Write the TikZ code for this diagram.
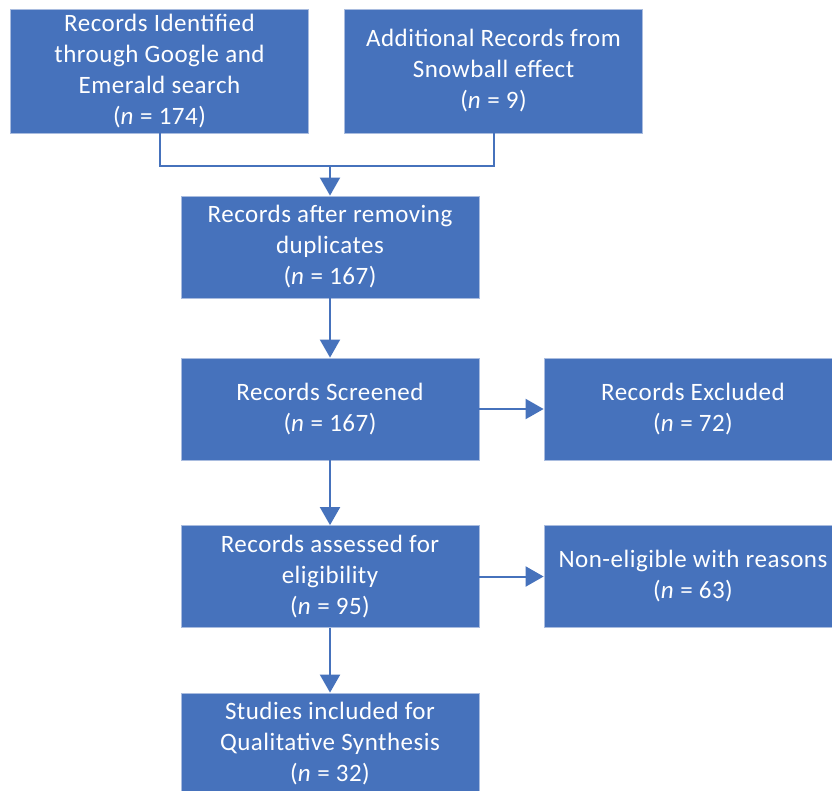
\documentclass[tikz,border=0pt]{standalone}
\usepackage{fontspec}
\setmainfont{Carlito}[LetterSpace=2]
\usetikzlibrary{arrows.meta}
\definecolor{boxblue}{HTML}{4672BC}
\definecolor{edgeblue}{HTML}{A9BCDF}
\begin{document}
\begin{tikzpicture}[x=1pt,y=-1pt,
  box/.style={rectangle, fill=boxblue, draw=edgeblue, line width=0.8pt, text=white,
    align=center, inner sep=0pt, font=\fontsize{25}{31}\selectfont, minimum width=298pt},
  tall/.style={minimum height=124pt},
  short/.style={minimum height=102pt},
  conn/.style={draw=boxblue, line width=2pt},
  arr/.style={conn, -{Triangle[width=20pt,length=18pt]}}]
\useasboundingbox (0,0) rectangle (832,791);
\clip (0,0) rectangle (832,791);
\node[box,tall] (a) at (159.5,71) {Records Identified\\through Google and\\Emerald search\\(\textit{n} = 174)};
\node[box,tall] (b) at (493.5,71) {Additional Records from\\Snowball effect\\(\textit{n} = 9)};
\node[box,short] (c) at (330,247) {Records after removing\\duplicates\\(\textit{n} = 167)};
\node[box,short] (d) at (330,409) {Records Screened\\(\textit{n} = 167)};
\node[box,short] (e) at (693,409) {Records Excluded\\(\textit{n} = 72)};
\node[box,short] (f) at (330,576.5) {Records assessed for\\eligibility\\(\textit{n} = 95)};
\node[box,short] (g) at (693,576.5) {Non-eligible with reasons\\(\textit{n} = 63)};
\node[box,short] (h) at (330,744) {Studies included for\\Qualitative Synthesis\\(\textit{n} = 32)};
\coordinate (j) at (330,166);
\draw[conn] (a.south) |- (j) -| (b.south);
\draw[arr] (j) -- (c.north);
\draw[arr] (c.south) -- (d.north);
\draw[arr] (d.east) -- (e.west);
\draw[arr] (d.south) -- (f.north);
\draw[arr] (f.east) -- (g.west);
\draw[arr] (f.south) -- (h.north);
\end{tikzpicture}
\end{document}
